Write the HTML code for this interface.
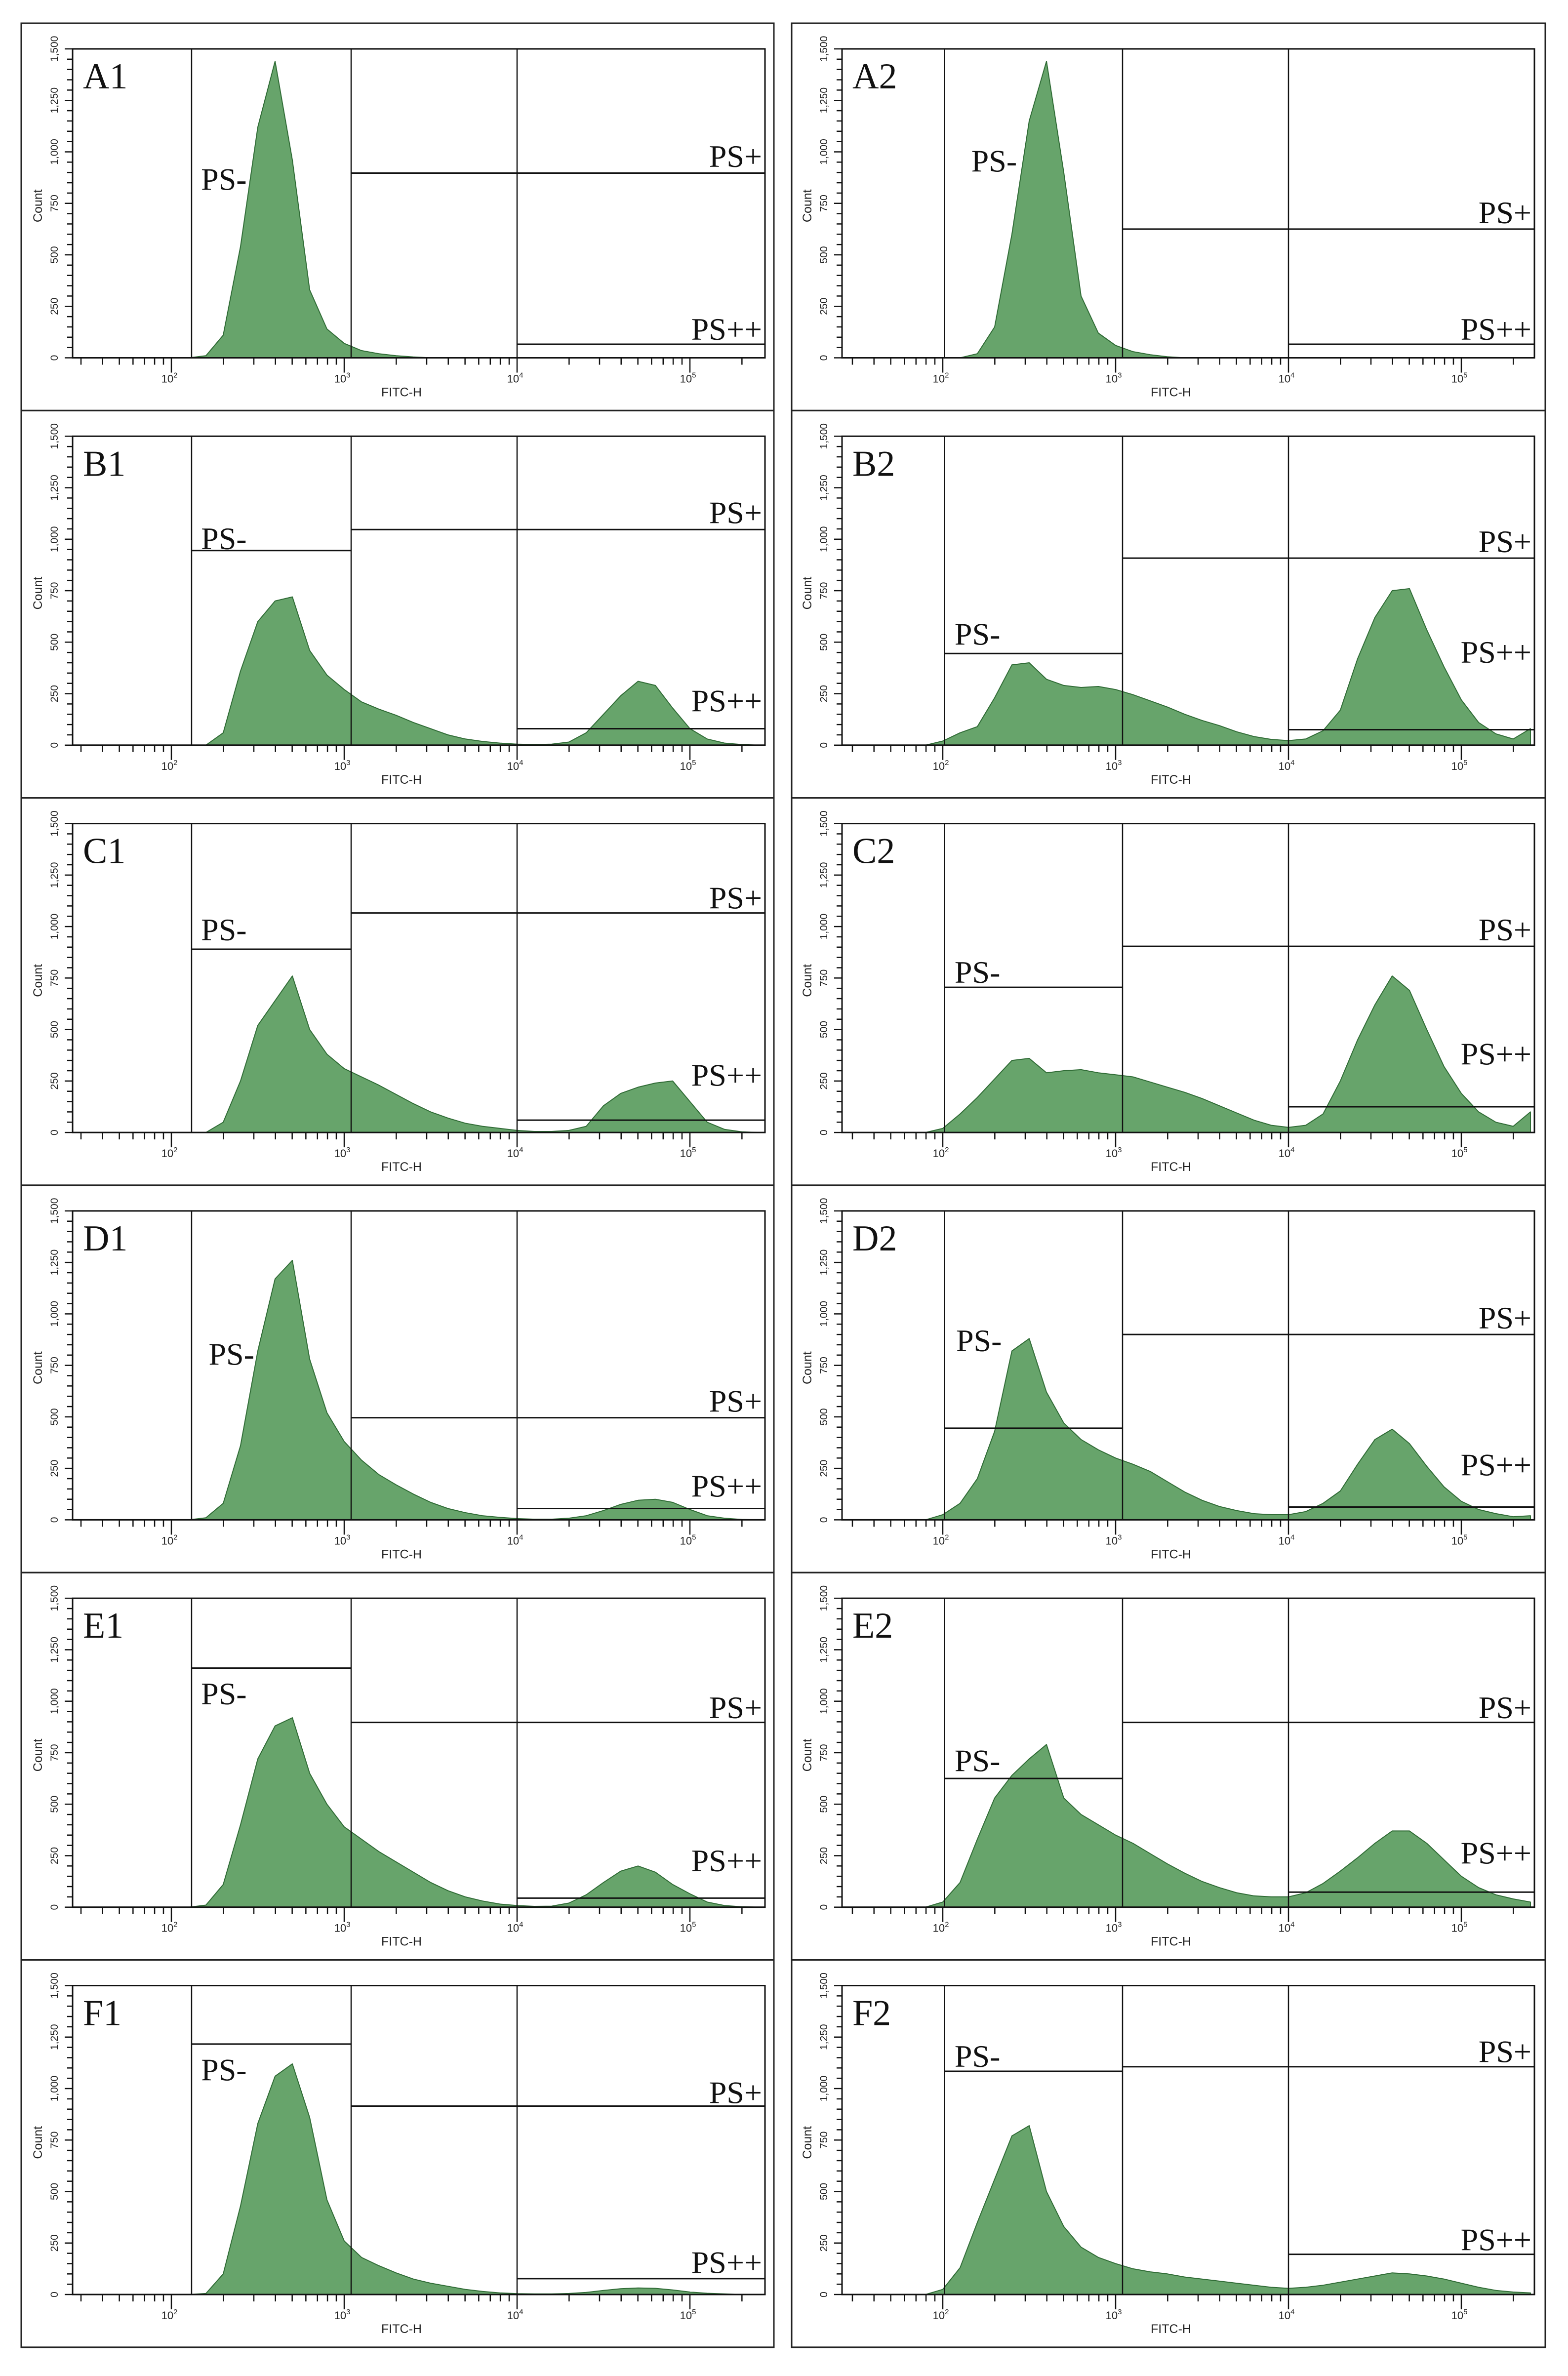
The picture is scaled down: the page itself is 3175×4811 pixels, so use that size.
<!DOCTYPE html>
<html><head><meta charset="utf-8"><style>
html,body{margin:0;padding:0;background:#fff}
svg{display:block}
</style></head><body>
<svg id="fig" xmlns="http://www.w3.org/2000/svg" width="3175" height="4811" viewBox="0 0 3175 4811"></svg>
<script>
// bins: log10(FITC-H) = 1.9 + i*0.1
const binStart = 1.9;
const binStep = 0.1;
const panelNames = ["A1","A2","B1","B2","C1","C2","D1","D2","E1","E2","F1","F2"];
const countsA1 = [0,0,0,10,110,540,1120,1440,960,330,140,70,35,20,10,4,0,0,0,0,0,0,0,0,0,0,0,0,0,0,0,0,0,0,0,0];
const countsA2 = [0,0,0,20,150,600,1150,1440,900,300,120,60,30,15,5,0,0,0,0,0,0,0,0,0,0,0,0,0,0,0,0,0,0,0,0,0];
const countsB1 = [0,0,0,0,60,360,600,700,720,460,340,270,210,175,145,110,80,50,30,18,10,5,3,5,15,60,150,240,310,290,180,80,30,10,3,0];
const countsB2 = [0,20,60,90,230,390,400,320,290,280,285,270,245,215,185,150,120,95,65,42,28,22,30,70,170,420,620,750,760,560,380,220,110,55,30,80];
const countsC1 = [0,0,0,0,50,250,520,640,760,500,380,310,270,230,185,140,100,70,45,30,20,10,5,5,10,30,130,190,220,240,250,150,50,15,3,0];
const countsC2 = [0,20,90,170,260,350,360,290,300,305,290,280,270,245,220,195,165,130,95,60,35,25,35,90,250,450,620,760,690,500,320,190,100,50,30,100];
const countsD1 = [0,0,0,10,80,360,820,1170,1260,780,520,380,290,220,170,125,85,55,35,20,12,6,3,3,8,20,45,75,95,100,85,50,20,8,2,0];
const countsD2 = [0,25,80,200,430,820,880,620,470,390,340,300,270,235,185,135,95,65,45,30,25,25,40,80,140,270,390,440,370,260,160,90,50,30,15,20];
const countsE1 = [0,0,0,10,110,400,720,880,920,650,500,390,330,270,220,170,120,80,50,30,15,8,4,5,20,60,120,175,200,170,110,65,25,8,2,0];
const countsE2 = [0,25,120,330,530,640,720,790,530,450,400,350,310,260,210,165,125,95,70,55,50,50,70,115,175,240,310,370,370,310,230,150,95,60,40,25];
const countsF1 = [0,0,0,5,100,430,830,1060,1120,860,460,260,180,140,105,75,55,40,25,15,8,4,3,3,5,10,20,28,32,30,22,12,6,3,0,0];
const countsF2 = [0,25,130,350,560,770,820,500,330,230,180,150,125,110,100,85,75,65,55,45,35,30,35,45,60,75,90,105,100,90,75,55,35,20,12,8];
// gate horizontal levels (counts): PS-, PS+, PS++ (null = none)
const gateNeg = [null,null,945,445,890,705,null,445,1161,625,1216,1084];
const gatePos = [897,625,1047,908,1066,904,496,900,897,897,915,1106];
const gatePP  = [66,66,80,75,60,125,55,62,44,73,77,195];
const yTicks = [0,250,500,750,1000,1250,1500];
const yTickLabels = ["0","250","500","750","1,000","1,250","1,500"];
const xDecades = [2,3,4,5];

const allCounts=[countsA1,countsA2,countsB1,countsB2,countsC1,countsC2,countsD1,countsD2,countsE1,countsE2,countsF1,countsF2];
// label positions (reference display units)
const labelPos = [
 [[130,118],[480,103],[477,217]],[[638,106],[992,140],[987,217]],
 [[130,355],[483,338],[475,462]],[[627,418],[990,357],[985,430]],
 [[130,613],[481,592],[472,709]],[[627,641],[992,613],[985,695]],
 [[135,893],[478,924],[477,980]],[[628,884],[990,869],[985,966]],
 [[130,1117],[479,1126],[473,1227]],[[627,1161],[993,1126],[987,1222]],
 [[130,1365],[482,1380],[482,1492]],[[627,1356],[989,1353],[987,1477]]
];
const NS="http://www.w3.org/2000/svg";
const svg=document.getElementById('fig');
function mk(tag,attrs,parent){const e=document.createElementNS(NS,tag);for(const k in attrs)e.setAttribute(k,attrs[k]);(parent||svg).appendChild(e);return e;}

const pitch=784.3, top0=47;
const cols=[{boxL:43,boxR:1567,plotL:147,plotR:1549,x2:347,g1:2.117},{boxL:1603,boxR:3129,plotL:1705,plotR:3107,x2:1909,g1:2.01}];
const dec=350;

panelNames.forEach((name,p)=>{
  const r=Math.floor(p/2), c=cols[p%2];
  const bt=top0+r*pitch;
  const pt=bt+52, pb=bt+677.5;
  const X=l=>c.x2+(l-2)*dec;
  const Y=v=>pb-(v/1500)*(pb-pt);
  const lmin=2-(c.x2-c.plotL)/dec, lmax=2+(c.plotR-c.x2)/dec;
  const clampX=l=>Math.max(c.plotL,Math.min(c.plotR,X(l)));
  const g=mk('g',{});
  
  
  const box=mk('rect',{x:c.boxL,y:bt,width:c.boxR-c.boxL,height:pitch,fill:'none',stroke:'#222','stroke-width':3},g);
  
  
  const data=allCounts[p];
  let d='M'+clampX(binStart)+','+pb;
  data.forEach((v,i)=>{d+=' L'+clampX(binStart+i*binStep).toFixed(1)+','+Y(v).toFixed(1);});
  d+=' L'+clampX(binStart+(data.length-1)*binStep)+','+pb+' Z';
  const hist=mk('path',{d:d,fill:'#67a46b',stroke:'#2f6b35','stroke-width':2,'stroke-linejoin':'round'},g);
  
  
  const fr=mk('rect',{x:c.plotL,y:pt,width:c.plotR-c.plotL,height:pb-pt,fill:'none',stroke:'#111','stroke-width':3},g);
  
  
  [c.g1,3.04,4.0].forEach(l=>{
    const ln=mk('line',{x1:X(l),x2:X(l),y1:pt,y2:pb,stroke:'#111','stroke-width':2.5},g);
    
    
  });
  if(gateNeg[p]!==null){const ln=mk('line',{x1:X(c.g1),x2:X(3.04),y1:Y(gateNeg[p]),y2:Y(gateNeg[p]),stroke:'#111','stroke-width':3},g);
    
    }
  const lp=mk('line',{x1:X(3.04),x2:c.plotR,y1:Y(gatePos[p]),y2:Y(gatePos[p]),stroke:'#111','stroke-width':3},g);
  
  
  const lpp=mk('line',{x1:X(4),x2:c.plotR,y1:Y(gatePP[p]),y2:Y(gatePP[p]),stroke:'#111','stroke-width':3},g);
  
  
  for(let n=1;n<=5;n++)for(let k=1;k<=9;k++){
    const l=n+Math.log10(k); if(l<lmin+0.02||l>lmax) continue;
    const t=mk('line',{x1:X(l),x2:X(l),y1:pb,y2:pb+(k===1?30:14),stroke:'#111','stroke-width':2.5},g);
    
    
  }
  xDecades.forEach(n=>{
    const t=mk('text',{x:X(n)-4,y:pb+50,'font-family':'Liberation Sans, sans-serif','font-size':22,'text-anchor':'middle',fill:'#222'},g);
    t.textContent='10';
    const s=mk('tspan',{dy:-10,'font-size':15},t); s.textContent=String(n);
    
    
  });
  const xt=mk('text',{x:(c.plotL+c.plotR)/2-35,y:pb+78,'font-family':'Liberation Sans, sans-serif','font-size':25,'text-anchor':'middle',fill:'#222'},g);
  xt.textContent='FITC-H';
  
  
  for(let v=0;v<=1500;v+=50){
    const t=mk('line',{x1:c.plotL-(v%250===0?16:11),x2:c.plotL,y1:Y(v),y2:Y(v),stroke:'#111','stroke-width':2.5},g);
    
    
  }
  yTicks.forEach((v,i)=>{
    const xx=c.plotL-30, yy=Y(v);
    const t=mk('text',{x:xx,y:yy,transform:'rotate(-90 '+xx+' '+yy+')','font-family':'Liberation Sans, sans-serif','font-size':21,'text-anchor':'middle',fill:'#222'},g);
    t.textContent=yTickLabels[i];
    
    
  });
  const yx=c.plotL-62, yy=(pt+pb)/2+5;
  const yt=mk('text',{x:yx,y:yy,transform:'rotate(-90 '+yx+' '+yy+')','font-family':'Liberation Sans, sans-serif','font-size':25,'text-anchor':'middle',fill:'#222'},g);
  yt.textContent='Count';
  
  
  const pl=mk('text',{x:c.plotL+21,y:bt+132,'font-family':'Liberation Serif, serif','font-size':74,fill:'#111'},g);
  pl.textContent=name;
  
  
  const S=3.07;
  const lbls=['PS-','PS+','PS++'];
  labelPos[p].forEach((q,i)=>{
    const anchor=i===0?'start':'end';
    let x = i===0 ? q[0]*S+8 : c.plotR-6;
    const t=mk('text',{x:x,y:q[1]*S+22,'font-family':'Liberation Serif, serif','font-size':64,'text-anchor':anchor,fill:'#111'},g);
    t.textContent=lbls[i];
    
    
  });
});
</script>
</body></html>
